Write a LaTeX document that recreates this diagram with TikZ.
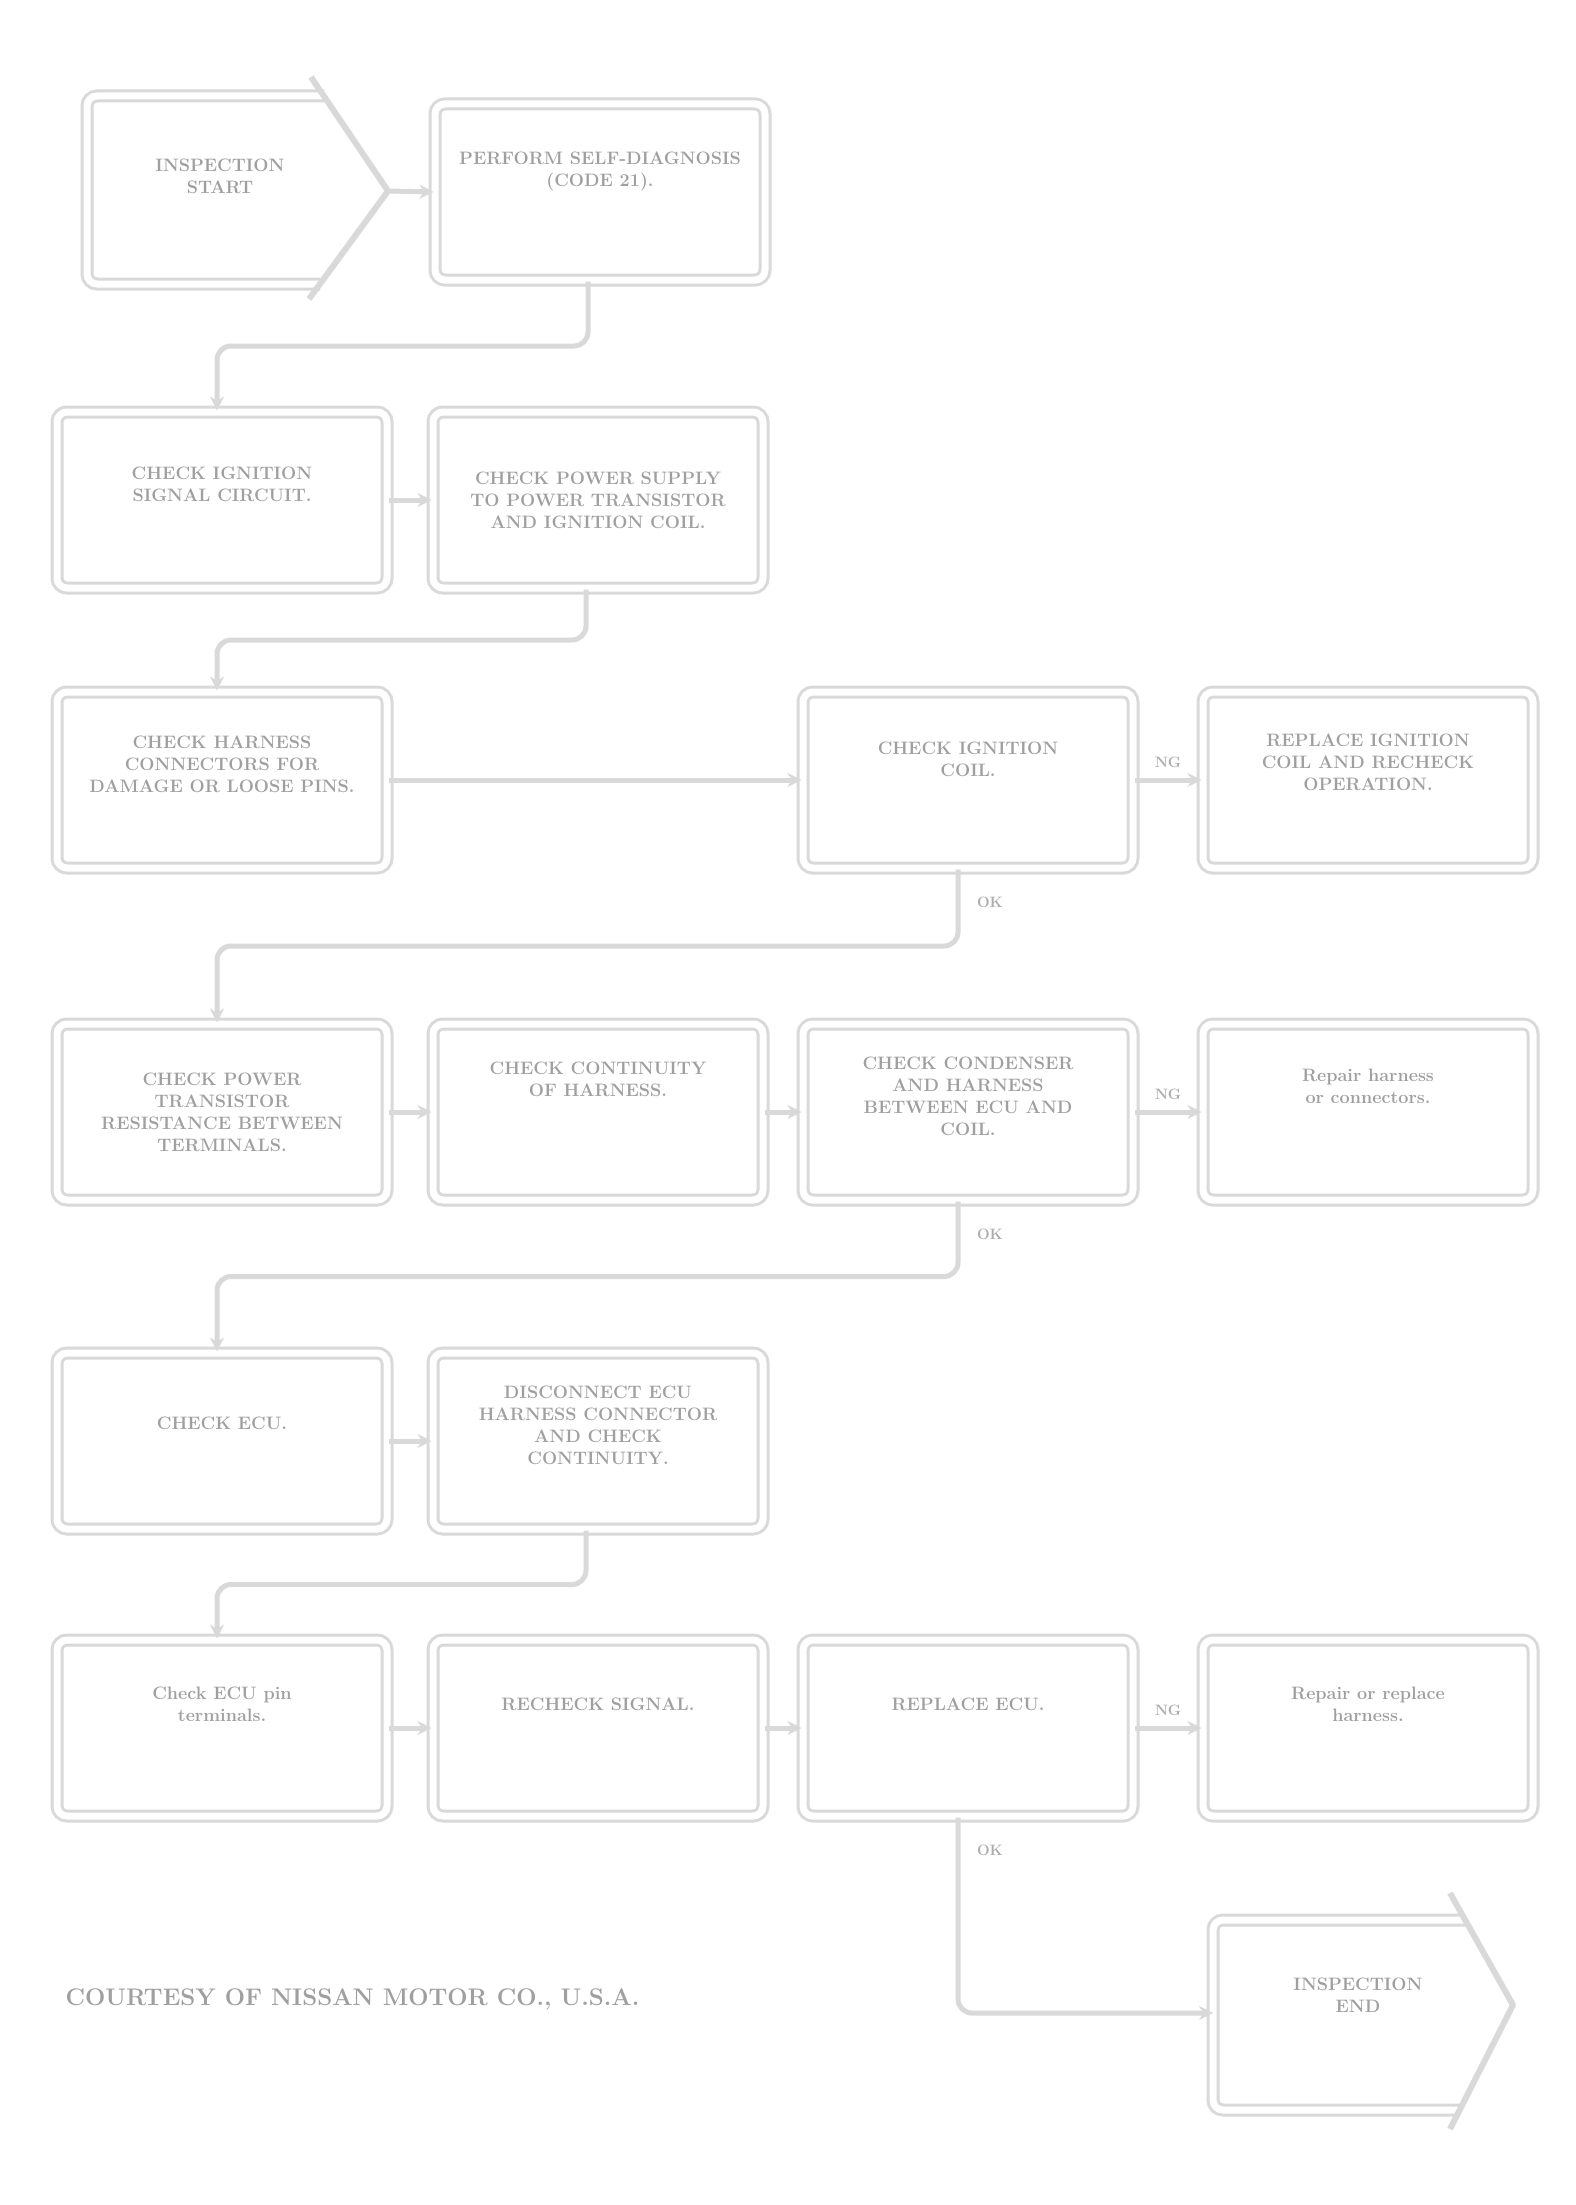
\documentclass[tikz,border=0pt]{standalone}
\usepackage{tikz}
\usetikzlibrary{calc,arrows.meta}

\begin{document}
\begin{tikzpicture}[x=1pt,y=-1pt,
	stepbox/.style={draw=gray!30, line width=3pt, double=white, double distance=7pt, rounded corners=10pt,
		minimum width=330pt, minimum height=176pt, align=center, inner sep=0pt,
		font=\bfseries\fontsize{18}{22}\selectfont, text=gray!75},
	edge/.style={draw=gray!30, line width=3pt, double=white, double distance=7pt, rounded corners=10pt},
	chevron/.style={draw=gray!30, line width=6pt, line join=round},
	flow/.style={draw=gray!30, line width=5pt, rounded corners=14pt, -{Stealth[length=14pt,width=14pt]}},
	tag/.style={font=\bfseries\fontsize{15}{18}\selectfont, text=gray!65}]
	\path[fill=white] (0,0) rectangle (1575,2205);

	%start and end symbols
	\draw[edge]	(324,96)--(87,96)--(87,284)--(320,284);
	\draw[chevron]	(311,77)--(388,191)--(309,299);
	\node[stepbox, draw=none, minimum width=0pt, minimum height=0pt] (start) at (220,176) {INSPECTION\\START};
	\coordinate (startpt) at (388,191);

	\draw[edge]	(1465,1920)--(1213,1920)--(1213,2110)--(1460,2110);
	\draw[chevron]	(1450,1893)--(1513,2005)--(1450,2129);
	\node[stepbox, draw=none, minimum width=0pt, minimum height=0pt] (finish) at (1358,1995) {INSPECTION\\END};
	\coordinate (endin) at (1213,2013);

	%boxes
	\node[stepbox] (b12) at (600,192)  {PERFORM SELF-DIAGNOSIS\\(CODE 21).\\[24pt]};
	\node[stepbox] (b21) at (222,500)  {CHECK IGNITION\\SIGNAL CIRCUIT.\\[10pt]};
	\node[stepbox] (b22) at (598,500)  {CHECK POWER SUPPLY\\TO POWER TRANSISTOR\\AND IGNITION COIL.};
	\node[stepbox] (b31) at (222,780)  {CHECK HARNESS\\CONNECTORS FOR\\DAMAGE OR LOOSE PINS.\\[10pt]};
	\node[stepbox] (b32) at (968,780)  {CHECK IGNITION\\COIL.\\[20pt]};
	\node[stepbox] (b33) at (1368,780) {REPLACE IGNITION\\COIL AND RECHECK\\OPERATION.\\[14pt]};
	\node[stepbox] (b41) at (222,1112) {CHECK POWER\\TRANSISTOR\\RESISTANCE BETWEEN\\TERMINALS.};
	\node[stepbox] (b42) at (598,1112) {CHECK CONTINUITY\\OF HARNESS.\\[44pt]};
	\node[stepbox] (b43) at (968,1112) {CHECK CONDENSER\\AND HARNESS\\BETWEEN ECU AND\\COIL.\\[10pt]};
	\node[stepbox] (b44) at (1368,1112) {Repair harness\\or connectors.\\[30pt]};
	\node[stepbox] (b51) at (222,1441) {CHECK ECU.\\[14pt]};
	\node[stepbox] (b52) at (598,1441) {DISCONNECT ECU\\HARNESS CONNECTOR\\AND CHECK\\CONTINUITY.\\[10pt]};
	\node[stepbox] (b61) at (222,1728) {Check ECU pin\\terminals.\\[26pt]};
	\node[stepbox] (b62) at (598,1728) {RECHECK SIGNAL.\\[26pt]};
	\node[stepbox] (b63) at (968,1728) {REPLACE ECU.\\[26pt]};
	\node[stepbox] (b64) at (1368,1728) {Repair or replace\\harness.\\[26pt]};

	%connectors
	\draw[flow] (startpt) -- (b12.west);
	\draw[flow] ([xshift=-12pt]b12.south) |- ($(b12.south)!.5!(b21.north)$) -| ([xshift=-5pt]b21.north);
	\draw[flow] (b21.east) -- (b22.west);
	\draw[flow] ([xshift=-12pt]b22.south) |- ($(b22.south)!.5!(b31.north)$) -| ([xshift=-5pt]b31.north);
	\draw[flow] (b31.east) -- (b32.west);
	\draw[flow] (b32.east) -- (b33.west);
	\draw[flow] ([xshift=-10pt]b32.south) |- ($(b32.south)!.5!(b41.north)$) -| ([xshift=-5pt]b41.north);
	\draw[flow] (b41.east) -- (b42.west);
	\draw[flow] (b42.east) -- (b43.west);
	\draw[flow] (b43.east) -- (b44.west);
	\draw[flow] ([xshift=-10pt]b43.south) |- ($(b43.south)!.5!(b51.north)$) -| ([xshift=-5pt]b51.north);
	\draw[flow] (b51.east) -- (b52.west);
	\draw[flow] ([xshift=-12pt]b52.south) |- ($(b52.south)!.5!(b61.north)$) -| ([xshift=-5pt]b61.north);
	\draw[flow] (b61.east) -- (b62.west);
	\draw[flow] (b62.east) -- (b63.west);
	\draw[flow] (b63.east) -- (b64.west);
	\draw[flow] ([xshift=-10pt]b63.south) |- (endin);

	%OK / NG labels
	\node[tag] (ok3) at (990,902)  {OK};
	\node[tag] (ok4) at (990,1234) {OK};
	\node[tag] (ok6) at (990,1850) {OK};
	\node[tag] (ng3) at ($(b32.east)!.5!(b33.west)+(0,-18)$) {NG};
	\node[tag] (ng4) at ($(b43.east)!.5!(b44.west)+(0,-18)$) {NG};
	\node[tag] (ng6) at ($(b63.east)!.5!(b64.west)+(0,-18)$) {NG};

	%credit line
	\node[anchor=west, font=\bfseries\fontsize{24}{28}\selectfont, text=gray!75] (credit) at (62,1999) {COURTESY OF NISSAN MOTOR CO., U.S.A.};
\end{tikzpicture}
\end{document}
